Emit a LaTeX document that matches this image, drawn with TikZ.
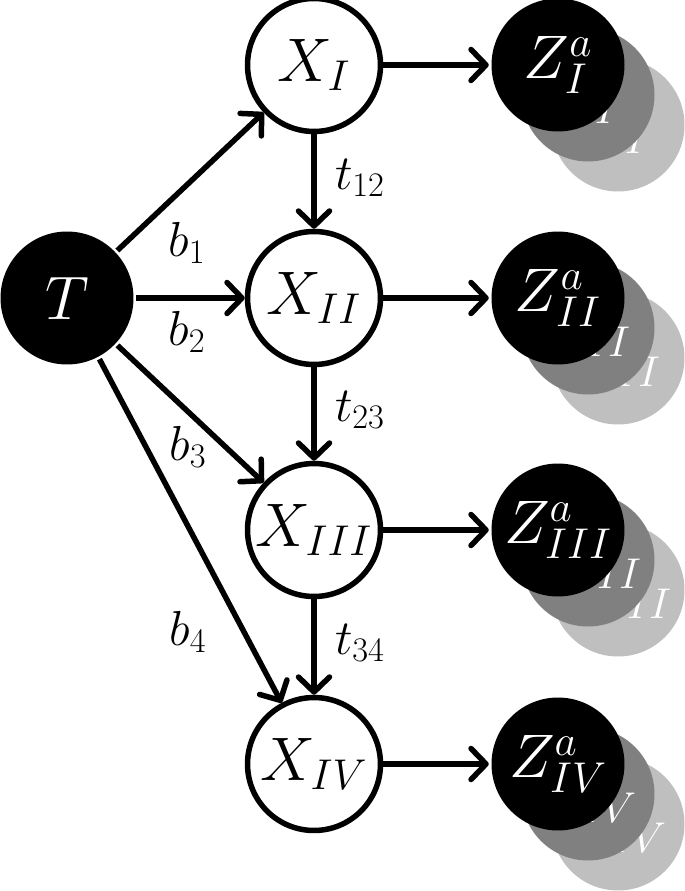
\RequirePackage{fix-cm}
\documentclass[tikz,border=0pt]{standalone}
\usetikzlibrary{arrows.meta}
\begin{document}
\begin{tikzpicture}[x=0.02cm, y=-0.02cm, line width=0.11cm,
  >={Straight Barb[length=0.3cm, width=0.62cm, round]},
  every node/.style = {shape=circle, minimum size=2.66cm, inner sep=0pt,
    font=\fontsize{35}{40}\selectfont},
  obs/.style = {draw, fill=white, line width=0.11cm},
  latent/.style = {fill=black, text=white},
  shade1/.style = {fill=black!50, text=white},
  shade2/.style = {fill=black!25, text=white},
  lbl/.style = {shape=rectangle, minimum size=0pt, font=\fontsize{28}{32}\selectfont}]
  \useasboundingbox (0,0) rectangle (685,891);
  \node[latent] (T) at (67,298) {$T$};
  \node[obs] (X1) at (314,65) {$X_{I}$};
  \node[obs] (X2) at (314,298) {$X_{II}$};
  \node[obs] (X3) at (314,530) {$X_{III}$};
  \node[obs] (X4) at (314,764) {$X_{IV}$};
  % stacked copies of Z
  \foreach \n/\r/\y in {1/I/65, 2/II/298, 3/III/530, 4/IV/764} {
    \node[shade2] (Zc\n) at (618,\y+60) {$Z^{a}_{\r}$};
    \node[shade1] (Zb\n) at (588,\y+30) {$Z^{a}_{\r}$};
    \node[latent] (Z\n) at (558,\y) {$Z^{a}_{\r}$};
    \draw[->] (X\n) -- (Z\n);
  }
  \foreach \n in {1,2,3,4}
    \draw[->] (T) -- (X\n);
  \draw[->] (X1) -- (X2);
  \draw[->] (X2) -- (X3);
  \draw[->] (X3) -- (X4);
  \node[lbl] (b1) at (187,243) {$b_1$};
  \node[lbl] (b2) at (187,332) {$b_2$};
  \node[lbl] (b3) at (188,447) {$b_3$};
  \node[lbl] (b4) at (188,632) {$b_4$};
  \node[lbl] (t12) at (360,178) {$t_{12}$};
  \node[lbl] (t23) at (360,410) {$t_{23}$};
  \node[lbl] (t34) at (360,643) {$t_{34}$};
\end{tikzpicture}
\end{document}
